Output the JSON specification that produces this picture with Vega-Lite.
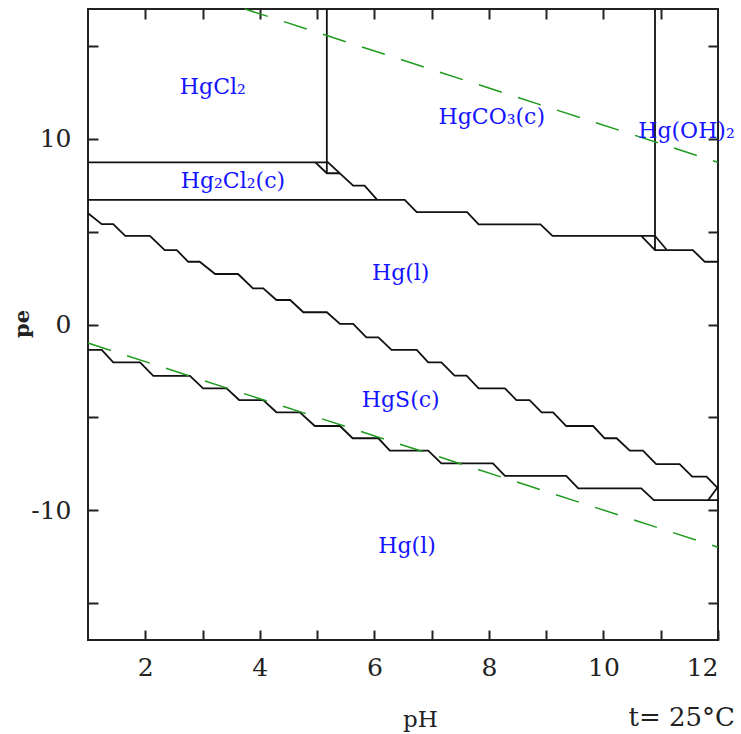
{
  "$schema": "https://vega.github.io/schema/vega-lite/v6.json",
  "width": 630,
  "height": 631,
  "autosize": {"type": "none"},
  "padding": {"left": 88, "top": 9, "right": 23, "bottom": 94},
  "background": "white",
  "config": {
    "font": "DejaVu Serif",
    "view": {"stroke": "#222", "strokeWidth": 2},
    "axis": {"grid": false, "domain": false, "tickColor": "#222", "tickWidth": 2, "tickSize": -10, "labelFont": "DejaVu Serif", "labelFontSize": 25, "labelColor": "#222", "titleFont": "DejaVu Serif", "titleColor": "#222", "titleFontWeight": "normal"}
  },
  "title": {"text": "t= 25°C", "orient": "bottom", "anchor": "end", "frame": "group", "fontSize": 26, "fontWeight": "normal", "color": "#222", "font": "DejaVu Serif", "baseline": "alphabetic", "offset": 0, "dx": 17, "dy": -5},
  "datasets": {
    "bounds": [
      {"s": "A", "i": 0, "pH": 1, "pe": 8.74}, {"s": "A", "i": 1, "pH": 5.19, "pe": 8.74}, {"s": "A", "i": 2, "pH": 5.63, "pe": 7.48}, {"s": "A", "i": 3, "pH": 5.83, "pe": 7.48}, {"s": "A", "i": 4, "pH": 6.05, "pe": 6.71},
      {"s": "B", "i": 0, "pH": 4.97, "pe": 8.74}, {"s": "B", "i": 1, "pH": 5.17, "pe": 8.15}, {"s": "B", "i": 2, "pH": 5.4, "pe": 8.15},
      {"s": "C", "i": 0, "pH": 5.17, "pe": 17}, {"s": "C", "i": 1, "pH": 5.17, "pe": 8.15},
      {"s": "D", "i": 0, "pH": 1, "pe": 6.71}, {"s": "D", "i": 1, "pH": 6.53, "pe": 6.71}, {"s": "D", "i": 2, "pH": 6.74, "pe": 6.06}, {"s": "D", "i": 3, "pH": 7.62, "pe": 6.06}, {"s": "D", "i": 4, "pH": 7.82, "pe": 5.4}, {"s": "D", "i": 5, "pH": 8.9, "pe": 5.4}, {"s": "D", "i": 6, "pH": 9.11, "pe": 4.77}, {"s": "D", "i": 7, "pH": 10.9, "pe": 4.77},
      {"s": "E", "i": 0, "pH": 10.9, "pe": 17}, {"s": "E", "i": 1, "pH": 10.9, "pe": 4.01},
      {"s": "F", "i": 0, "pH": 10.66, "pe": 4.77}, {"s": "F", "i": 1, "pH": 10.9, "pe": 4.01}, {"s": "F", "i": 2, "pH": 11.56, "pe": 4.01}, {"s": "F", "i": 3, "pH": 11.77, "pe": 3.38}, {"s": "F", "i": 4, "pH": 12, "pe": 3.38},
      {"s": "G", "i": 0, "pH": 10.9, "pe": 4.77}, {"s": "G", "i": 1, "pH": 11.1, "pe": 4.04},
      {"s": "H", "i": 0, "pH": 1, "pe": 5.99}, {"s": "H", "i": 1, "pH": 1.24, "pe": 5.41}, {"s": "H", "i": 2, "pH": 1.44, "pe": 5.41}, {"s": "H", "i": 3, "pH": 1.65, "pe": 4.78}, {"s": "H", "i": 4, "pH": 2.08, "pe": 4.78}, {"s": "H", "i": 5, "pH": 2.34, "pe": 4.01}, {"s": "H", "i": 6, "pH": 2.55, "pe": 4.01}, {"s": "H", "i": 7, "pH": 2.75, "pe": 3.38}, {"s": "H", "i": 8, "pH": 2.95, "pe": 3.38}, {"s": "H", "i": 9, "pH": 3.22, "pe": 2.72}, {"s": "H", "i": 10, "pH": 3.62, "pe": 2.72}, {"s": "H", "i": 11, "pH": 3.88, "pe": 1.95}, {"s": "H", "i": 12, "pH": 4.06, "pe": 1.95}, {"s": "H", "i": 13, "pH": 4.29, "pe": 1.32}, {"s": "H", "i": 14, "pH": 4.53, "pe": 1.32}, {"s": "H", "i": 15, "pH": 4.76, "pe": 0.66}, {"s": "H", "i": 16, "pH": 5.17, "pe": 0.66}, {"s": "H", "i": 17, "pH": 5.4, "pe": 0.03}, {"s": "H", "i": 18, "pH": 5.63, "pe": 0.03}, {"s": "H", "i": 19, "pH": 5.86, "pe": -0.69}, {"s": "H", "i": 20, "pH": 6.07, "pe": -0.69}, {"s": "H", "i": 21, "pH": 6.3, "pe": -1.37}, {"s": "H", "i": 22, "pH": 6.74, "pe": -1.37}, {"s": "H", "i": 23, "pH": 6.94, "pe": -2.04}, {"s": "H", "i": 24, "pH": 7.17, "pe": -2.04}, {"s": "H", "i": 25, "pH": 7.4, "pe": -2.76}, {"s": "H", "i": 26, "pH": 7.61, "pe": -2.76}, {"s": "H", "i": 27, "pH": 7.82, "pe": -3.44}, {"s": "H", "i": 28, "pH": 8.28, "pe": -3.44}, {"s": "H", "i": 29, "pH": 8.48, "pe": -4.07}, {"s": "H", "i": 30, "pH": 8.71, "pe": -4.07}, {"s": "H", "i": 31, "pH": 8.92, "pe": -4.73}, {"s": "H", "i": 32, "pH": 9.12, "pe": -4.73}, {"s": "H", "i": 33, "pH": 9.35, "pe": -5.47}, {"s": "H", "i": 34, "pH": 9.82, "pe": -5.47}, {"s": "H", "i": 35, "pH": 10.02, "pe": -6.13}, {"s": "H", "i": 36, "pH": 10.23, "pe": -6.13}, {"s": "H", "i": 37, "pH": 10.46, "pe": -6.8}, {"s": "H", "i": 38, "pH": 10.69, "pe": -6.8}, {"s": "H", "i": 39, "pH": 10.92, "pe": -7.52}, {"s": "H", "i": 40, "pH": 11.33, "pe": -7.52}, {"s": "H", "i": 41, "pH": 11.55, "pe": -8.2}, {"s": "H", "i": 42, "pH": 11.8, "pe": -8.2}, {"s": "H", "i": 43, "pH": 12, "pe": -8.83},
      {"s": "I", "i": 0, "pH": 1, "pe": -1.37}, {"s": "I", "i": 1, "pH": 1.24, "pe": -1.37}, {"s": "I", "i": 2, "pH": 1.44, "pe": -2.04}, {"s": "I", "i": 3, "pH": 1.91, "pe": -2.04}, {"s": "I", "i": 4, "pH": 2.14, "pe": -2.77}, {"s": "I", "i": 5, "pH": 2.78, "pe": -2.77}, {"s": "I", "i": 6, "pH": 3.01, "pe": -3.44}, {"s": "I", "i": 7, "pH": 3.42, "pe": -3.44}, {"s": "I", "i": 8, "pH": 3.64, "pe": -4.07}, {"s": "I", "i": 9, "pH": 4.06, "pe": -4.07}, {"s": "I", "i": 10, "pH": 4.29, "pe": -4.73}, {"s": "I", "i": 11, "pH": 4.7, "pe": -4.73}, {"s": "I", "i": 12, "pH": 4.96, "pe": -5.47}, {"s": "I", "i": 13, "pH": 5.4, "pe": -5.47}, {"s": "I", "i": 14, "pH": 5.62, "pe": -6.13}, {"s": "I", "i": 15, "pH": 6.07, "pe": -6.13}, {"s": "I", "i": 16, "pH": 6.27, "pe": -6.8}, {"s": "I", "i": 17, "pH": 6.94, "pe": -6.8}, {"s": "I", "i": 18, "pH": 7.17, "pe": -7.48}, {"s": "I", "i": 19, "pH": 8.07, "pe": -7.48}, {"s": "I", "i": 20, "pH": 8.28, "pe": -8.16}, {"s": "I", "i": 21, "pH": 9.35, "pe": -8.16}, {"s": "I", "i": 22, "pH": 9.56, "pe": -8.83}, {"s": "I", "i": 23, "pH": 10.66, "pe": -8.83}, {"s": "I", "i": 24, "pH": 10.88, "pe": -9.46}, {"s": "I", "i": 25, "pH": 12, "pe": -9.46},
      {"s": "J", "i": 0, "pH": 11.83, "pe": -9.46}, {"s": "J", "i": 1, "pH": 12, "pe": -8.74}
    ],
    "water": [
      {"s": "O2", "i": 0, "pH": 3.74, "pe": 17}, {"s": "O2", "i": 1, "pH": 12, "pe": 8.74},
      {"s": "H2", "i": 0, "pH": 1, "pe": -1}, {"s": "H2", "i": 1, "pH": 12, "pe": -12}
    ],
    "labels": [
      {"label": "HgCl₂", "pH": 3.18, "pe": 12.8},
      {"label": "Hg₂Cl₂(c)", "pH": 3.53, "pe": 7.73},
      {"label": "HgCO₃(c)", "pH": 8.05, "pe": 11.18},
      {"label": "Hg(OH)₂", "pH": 11.45, "pe": 10.42},
      {"label": "Hg(l)", "pH": 6.46, "pe": 2.77},
      {"label": "HgS(c)", "pH": 6.46, "pe": -4.07},
      {"label": "Hg(l)", "pH": 6.57, "pe": -11.93}
    ]
  },
  "layer": [
    {
      "data": {"name": "bounds"},
      "mark": {"type": "line", "color": "#111", "strokeWidth": 1.8},
      "encoding": {
        "x": {"field": "pH", "type": "quantitative", "scale": {"domain": [1, 12], "nice": false, "zero": false},
          "axis": {"orient": "bottom", "values": [2, 3, 4, 5, 6, 7, 8, 9, 10, 11, 12], "labelExpr": "datum.value % 2 == 0 ? datum.label : ''", "labelPadding": 25, "title": "pH", "titleFontSize": 23, "titleX": 332, "titleY": 86, "titleBaseline": "alphabetic", "titleAlign": "center"}},
        "y": {"field": "pe", "type": "quantitative", "scale": {"domain": [-17, 17], "nice": false, "zero": false},
          "axis": {"orient": "left", "values": [-15, -10, -5, 0, 5, 10, 15], "labelExpr": "datum.value % 10 == 0 ? '' + datum.value : ''", "labelPadding": 27, "title": "pe", "titleFontWeight": "bold", "titleFontSize": 21, "titleAngle": 270, "titleX": -60, "titleY": 314.5, "titleBaseline": "alphabetic", "titleAlign": "center"}},
        "detail": {"field": "s"},
        "order": {"field": "i"}
      }
    },
    {
      "data": {"name": "water"},
      "mark": {"type": "line", "color": "#1e9a1e", "strokeWidth": 1.5, "strokeDash": [24, 17]},
      "encoding": {
        "x": {"field": "pH", "type": "quantitative", "scale": {"domain": [1, 12], "nice": false, "zero": false}, "axis": null},
        "y": {"field": "pe", "type": "quantitative", "scale": {"domain": [-17, 17], "nice": false, "zero": false}, "axis": null},
        "detail": {"field": "s"},
        "order": {"field": "i"}
      }
    },
    {
      "data": {"name": "labels"},
      "mark": {"type": "text", "color": "#1414ff", "fontSize": 22, "font": "DejaVu Serif", "align": "center", "baseline": "middle"},
      "encoding": {
        "x": {"field": "pH", "type": "quantitative", "scale": {"domain": [1, 12], "nice": false, "zero": false},
          "axis": {"orient": "top", "values": [2, 3, 4, 5, 6, 7, 8, 9, 10, 11], "labels": false, "title": null}},
        "y": {"field": "pe", "type": "quantitative", "scale": {"domain": [-17, 17], "nice": false, "zero": false},
          "axis": {"orient": "right", "values": [-15, -10, -5, 0, 5, 10, 15], "labels": false, "title": null}},
        "text": {"field": "label"}
      }
    }
  ],
  "resolve": {"scale": {"x": "independent", "y": "independent"}, "axis": {"x": "independent", "y": "independent"}}
}
